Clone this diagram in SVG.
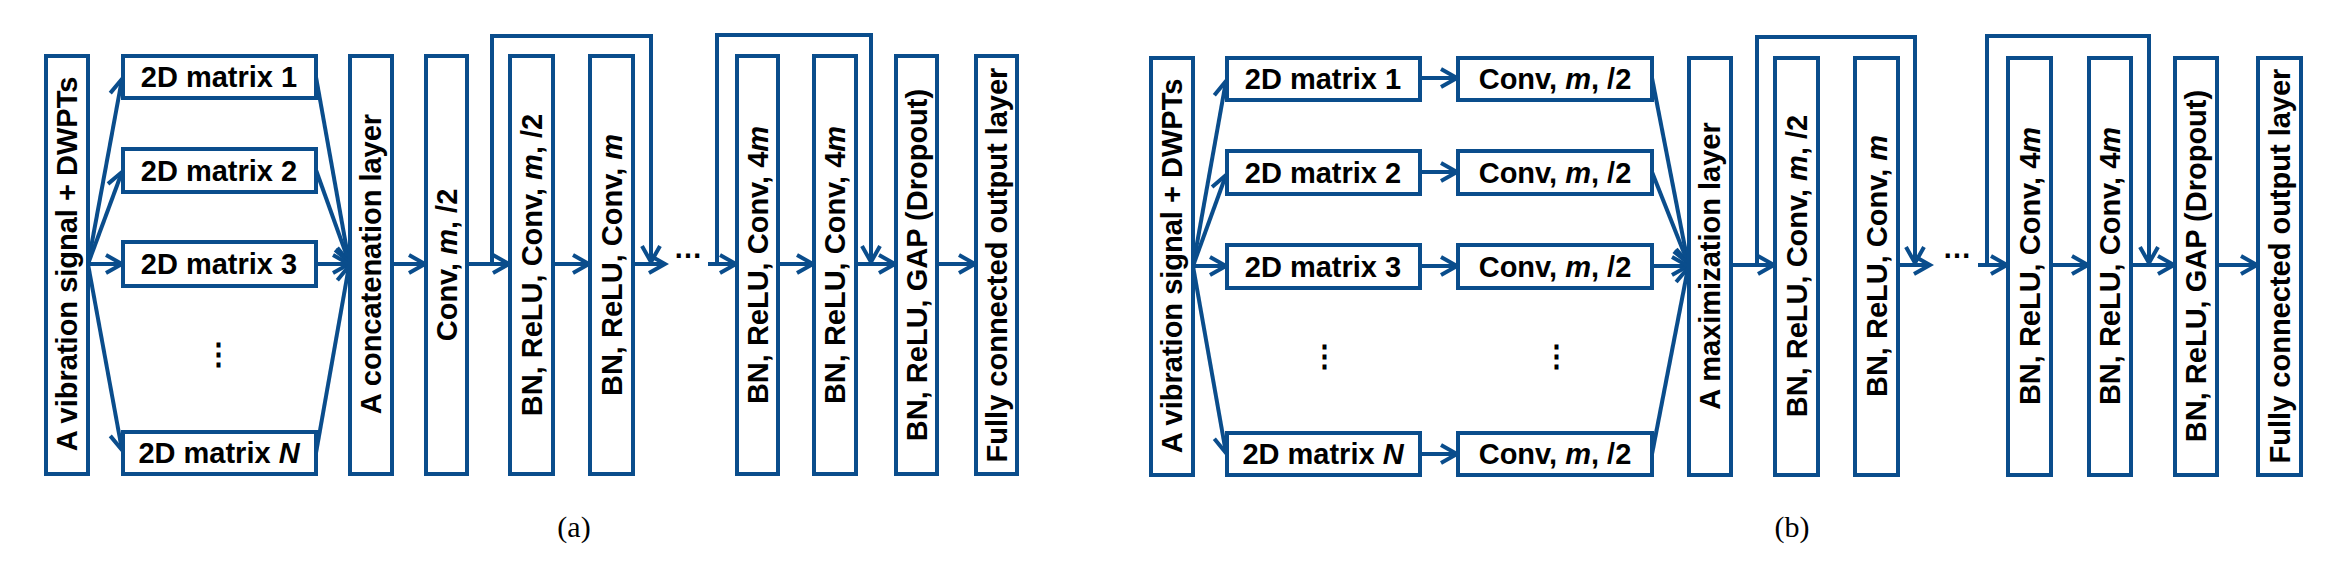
<svg xmlns="http://www.w3.org/2000/svg" width="2343" height="573" viewBox="0 0 2343 573">
<style>
.b{fill:#fff;stroke:#0a4d8c;stroke-width:4}
.c{fill:none;stroke:#0a4d8c;stroke-width:4;marker-end:url(#a)}
.t{font-family:"Liberation Sans",Arial,sans-serif;font-weight:bold;font-size:29px;fill:#000;text-anchor:middle;dominant-baseline:central}
.d{font-family:"Liberation Sans",Arial,sans-serif;font-weight:bold;font-size:29px;fill:#000;text-anchor:middle}
.cap{font-family:"Liberation Serif","Times New Roman",serif;font-size:30px;fill:#000;text-anchor:middle}
</style>
<defs>
<marker id="a" markerUnits="userSpaceOnUse" markerWidth="24" markerHeight="24" viewBox="-20 -12 24 24" refX="0" refY="0" orient="auto">
<path d="M-16,-9 L0,0 L-16,9" fill="none" stroke="#0a4d8c" stroke-width="4"/>
</marker>
</defs>
<g id="connectors">
<path class="c" d="M88,264 L122,79"/>
<path class="c" d="M88,264 L122,172"/>
<path class="c" d="M88,264 L122,264"/>
<path class="c" d="M88,264 L122,450"/>
<path class="c" d="M316,77 L349,262"/>
<path class="c" d="M316,170 L349,262"/>
<path class="c" d="M316,264 L349,264"/>
<path class="c" d="M316,453 L349,266"/>
<path class="c" d="M392,264 L425,264"/>
<path class="c" d="M467,264 L509,264"/>
<path class="c" d="M553,264 L589,264"/>
<path class="c" d="M633,264 L665,264"/>
<path class="c" d="M492,264 L492,36 L651,36 L651,262"/>
<path class="c" d="M708,264 L736,264"/>
<path class="c" d="M778,264 L813,264"/>
<path class="c" d="M856,264 L895,264"/>
<path class="c" d="M717,264 L717,35 L871,35 L871,262"/>
<path class="c" d="M937,264 L975,264"/>
<path class="c" d="M1193,266 L1226,81"/>
<path class="c" d="M1193,266 L1226,175"/>
<path class="c" d="M1193,266 L1226,266"/>
<path class="c" d="M1193,266 L1226,453"/>
<path class="c" d="M1420,78 L1457,78"/>
<path class="c" d="M1420,172 L1457,172"/>
<path class="c" d="M1420,266 L1457,266"/>
<path class="c" d="M1420,454 L1457,454"/>
<path class="c" d="M1652,78 L1688,263"/>
<path class="c" d="M1652,172 L1688,263"/>
<path class="c" d="M1652,266 L1688,266"/>
<path class="c" d="M1652,454 L1688,268"/>
<path class="c" d="M1731,265 L1774,265"/>
<path class="c" d="M1757,265 L1757,37 L1915,37 L1915,263"/>
<path class="c" d="M1898,265 L1930,265"/>
<path class="c" d="M1978,265 L2007,265"/>
<path class="c" d="M2051,265 L2088,265"/>
<path class="c" d="M1987,265 L1987,36 L2149,36 L2149,263"/>
<path class="c" d="M2131,265 L2174,265"/>
<path class="c" d="M2217,265 L2257,265"/>
</g>
<g id="a-input"><rect class="b" x="46" y="56" width="42" height="418"/><text class="t" transform="translate(67,264) rotate(-90)">A vibration signal + DWPTs</text></g>
<g id="a-m1"><rect class="b" x="123" y="56" width="193" height="42"/><text class="t" x="219" y="77">2D matrix 1</text></g>
<g id="a-m2"><rect class="b" x="123" y="149" width="193" height="43"/><text class="t" x="219" y="171">2D matrix 2</text></g>
<g id="a-m3"><rect class="b" x="123" y="242" width="193" height="44"/><text class="t" x="219" y="264">2D matrix 3</text></g>
<text class="d" x="218" y="364">⋮</text>
<g id="a-mN"><rect class="b" x="123" y="432" width="193" height="42"/><text class="t" x="219" y="453">2D matrix <tspan font-style="italic">N</tspan></text></g>
<g id="a-concat"><rect class="b" x="350" y="56" width="42" height="418"/><text class="t" transform="translate(371,264) rotate(-90)">A concatenation layer</text></g>
<g id="a-conv"><rect class="b" x="426" y="56" width="41" height="418"/><text class="t" transform="translate(447,265) rotate(-90)">Conv, <tspan font-style="italic">m</tspan>, /2</text></g>
<g id="a-bn1"><rect class="b" x="510" y="56" width="43" height="418"/><text class="t" transform="translate(532,265) rotate(-90)">BN, ReLU, Conv, <tspan font-style="italic">m</tspan>, /2</text></g>
<g id="a-bn2"><rect class="b" x="590" y="56" width="43" height="418"/><text class="t" transform="translate(612,265) rotate(-90)">BN, ReLU, Conv, <tspan font-style="italic">m</tspan></text></g>
<text class="d" x="688" y="258">…</text>
<g id="a-bn3"><rect class="b" x="737" y="56" width="41" height="418"/><text class="t" transform="translate(758,265) rotate(-90)">BN, ReLU, Conv, 4<tspan font-style="italic">m</tspan></text></g>
<g id="a-bn4"><rect class="b" x="814" y="56" width="42" height="418"/><text class="t" transform="translate(835,265) rotate(-90)">BN, ReLU, Conv, 4<tspan font-style="italic">m</tspan></text></g>
<g id="a-gap"><rect class="b" x="896" y="56" width="41" height="418"/><text class="t" transform="translate(917,265) rotate(-90)">BN, ReLU, GAP (Dropout)</text></g>
<g id="a-fc"><rect class="b" x="976" y="56" width="41" height="418"/><text class="t" transform="translate(997,265) rotate(-90)">Fully connected output layer</text></g>
<text class="cap" x="574" y="537">(a)</text>
<g id="b-input"><rect class="b" x="1151" y="58" width="42" height="417"/><text class="t" transform="translate(1172,266) rotate(-90)">A vibration signal + DWPTs</text></g>
<g id="b-m1"><rect class="b" x="1227" y="58" width="193" height="42"/><text class="t" x="1323" y="79">2D matrix 1</text></g>
<g id="b-m2"><rect class="b" x="1227" y="151" width="193" height="43"/><text class="t" x="1323" y="173">2D matrix 2</text></g>
<g id="b-m3"><rect class="b" x="1227" y="245" width="193" height="43"/><text class="t" x="1323" y="267">2D matrix 3</text></g>
<text class="d" x="1324" y="366">⋮</text>
<g id="b-mN"><rect class="b" x="1227" y="433" width="193" height="42"/><text class="t" x="1323" y="454">2D matrix <tspan font-style="italic">N</tspan></text></g>
<g id="b-c1"><rect class="b" x="1458" y="58" width="194" height="42"/><text class="t" x="1555" y="79">Conv, <tspan font-style="italic">m</tspan>, /2</text></g>
<g id="b-c2"><rect class="b" x="1458" y="151" width="194" height="43"/><text class="t" x="1555" y="173">Conv, <tspan font-style="italic">m</tspan>, /2</text></g>
<g id="b-c3"><rect class="b" x="1458" y="245" width="194" height="43"/><text class="t" x="1555" y="267">Conv, <tspan font-style="italic">m</tspan>, /2</text></g>
<text class="d" x="1556" y="366">⋮</text>
<g id="b-cN"><rect class="b" x="1458" y="433" width="194" height="42"/><text class="t" x="1555" y="454">Conv, <tspan font-style="italic">m</tspan>, /2</text></g>
<g id="b-max"><rect class="b" x="1689" y="58" width="42" height="417"/><text class="t" transform="translate(1710,266) rotate(-90)">A maximization layer</text></g>
<g id="b-bn1"><rect class="b" x="1775" y="58" width="43" height="417"/><text class="t" transform="translate(1797,266) rotate(-90)">BN, ReLU, Conv, <tspan font-style="italic">m</tspan>, /2</text></g>
<g id="b-bn2"><rect class="b" x="1855" y="58" width="43" height="417"/><text class="t" transform="translate(1877,266) rotate(-90)">BN, ReLU, Conv, <tspan font-style="italic">m</tspan></text></g>
<text class="d" x="1957" y="258">…</text>
<g id="b-bn3"><rect class="b" x="2008" y="58" width="43" height="417"/><text class="t" transform="translate(2030,266) rotate(-90)">BN, ReLU, Conv, 4<tspan font-style="italic">m</tspan></text></g>
<g id="b-bn4"><rect class="b" x="2089" y="58" width="42" height="417"/><text class="t" transform="translate(2110,266) rotate(-90)">BN, ReLU, Conv, 4<tspan font-style="italic">m</tspan></text></g>
<g id="b-gap"><rect class="b" x="2175" y="58" width="42" height="417"/><text class="t" transform="translate(2196,266) rotate(-90)">BN, ReLU, GAP (Dropout)</text></g>
<g id="b-fc"><rect class="b" x="2258" y="58" width="43" height="417"/><text class="t" transform="translate(2280,266) rotate(-90)">Fully connected output layer</text></g>
<text class="cap" x="1792" y="537">(b)</text>
</svg>
